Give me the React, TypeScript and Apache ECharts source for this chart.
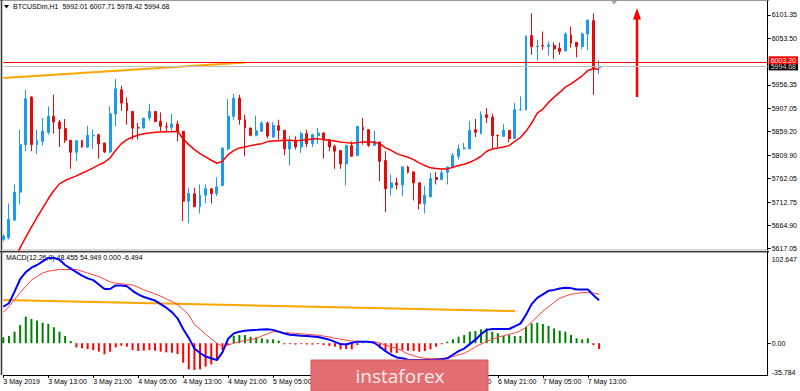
import React, { useEffect, useRef } from "react";
import * as echarts from "echarts";

// ---------- DATA ----------
const xTickLabels = [
  "3 May 2019", "3 May 13:00", "3 May 21:00", "4 May 05:00", "4 May 13:00",
  "4 May 21:00", "5 May 05:00", "5 May 13:00", "5 May 21:00", "6 May 05:00",
  "6 May 13:00", "6 May 21:00", "7 May 05:00", "7 May 13:00",
];
// tick labels that lie completely under the watermark box in the reference
const coveredTickLabels = ["5 May 13:00", "5 May 21:00", "6 May 05:00"];
const barsPerTick = 8;
const totalSlots = 137;

const opens = [5635.6,5639,5675.6,5733.6,5832.2,5930.9,5832.2,5839.2,5857.8,5890.9,
5879.2,5865.4,5841.2,5816.4,5840.5,5827.4,5850.5,5852.9,5835.7,5817.1,
5895.7,5946.1,5918.5,5901.2,5867.5,5866.7,5887.4,5901.2,5880.5,5869.5,
5868.1,5875,5859.9,5714.9,5730.1,5703.2,5727.4,5740.5,5730.8,5747.4,
5823.3,5890.9,5928.8,5884,5866.7,5851.6,5859.9,5877.1,5848.2,5871.6,
5861.9,5823.3,5840.5,5827.4,5855,5834.3,5850.9,5856.4,5842.6,5828.8,
5819.8,5792.2,5830.2,5809.5,5868.1,5863.3,5830.9,5837.8,5799.1,5742.5,
5752.9,5748.8,5786,5775.7,5752.9,5710.1,5723.9,5764,5759.8,5775,
5786,5808.1,5824,5823.3,5863.3,5855,5894.3,5889.5,5851.5,5849.5,
5861.9,5844.7,5904,5904.7,6058.6,6035.8,6038,6035.8,6037.9,6032.4,
6026.8,6060,6044.8,6035.8,6062,6089.6,5992.01];

const highs = [5646,5710.1,5749.5,5863.3,5946.1,5933,5863.3,5887.5,5911.6,5935.8,
5884,5885.4,5842,5841,5841.5,5871.6,5863.3,5853.5,5836,5911.6,
5968.9,5954.4,5930.2,5901.5,5877.1,5887.5,5917.1,5901.5,5899.2,5878.5,
5895.7,5882,5860,5742.6,5742.6,5749.5,5749.5,5742.6,5764.6,5826,
5927.5,5937.8,5935.8,5894.3,5867,5892.3,5880.6,5880,5879.2,5884,
5862.5,5850.9,5849.5,5859.9,5863.3,5855,5866.7,5857.8,5843,5832.3,
5820,5832.3,5839.2,5870.5,5887.5,5863.5,5861.2,5838,5818.5,5770.2,
5763.3,5787.4,5788.8,5776,5753,5746,5773.6,5775,5780.5,5786.5,
5815,5832.3,5835.7,5880.6,5885.4,5901.2,5908.2,5896.4,5853,5875,
5862,5918.5,5932.3,6058.5,6104.8,6049.6,6066.9,6046.2,6044.8,6044.1,
6065.5,6077.2,6045,6064.8,6091.5,6104.8,6007.71];

const lows = [5632,5635.6,5673.6,5708.1,5818.5,5818.5,5813,5830.2,5853,5855,
5827.4,5835.7,5781.9,5797.8,5826,5825.4,5823.3,5803.3,5815,5815,
5870.2,5902.6,5873.7,5842.6,5842.6,5866,5882,5878.5,5859.9,5857.8,
5859.2,5839.2,5673.6,5668.7,5703,5689.4,5710.1,5710.1,5725.3,5746,
5820.5,5884,5873.7,5808.1,5849.5,5849.5,5859,5845,5847,5842.6,
5810.2,5788.8,5821.9,5815,5827.4,5827.4,5833.6,5803.3,5818.5,5781.9,
5781.9,5747.4,5808,5809,5832.3,5827.4,5830,5756.4,5692.2,5726.7,
5739.1,5725.3,5772.2,5716.3,5697.7,5689.4,5723,5749.5,5759,5749.5,
5784,5801.2,5821.9,5823,5848.1,5854,5877.1,5823.3,5827.4,5849,
5837.1,5844,5903.3,5903.3,6018.6,6006.8,6028.9,6017.2,6010.3,6018.6,
6026,6033.7,6013,6030.3,6028.9,5935.7,5978.42];

const closes = [5642.5,5677,5733.6,5832.2,5927.5,5832.2,5840.5,5859.8,5890.9,5879.2,
5865.4,5841.2,5816.4,5840.5,5827.4,5851.6,5851.5,5833.6,5817.1,5896.4,
5948.2,5918.5,5902.6,5866.7,5866.7,5887.4,5901.2,5880.5,5870.2,5868.8,
5875,5858.5,5714.9,5730.8,5703.2,5727.4,5740.5,5730.8,5744.6,5825.3,
5890.9,5928.8,5884,5866.7,5851.6,5861.2,5877.1,5850,5872.3,5861.9,
5823.3,5840.5,5827.4,5855,5834.3,5852.9,5856.4,5842.6,5827.4,5818.5,
5792.2,5830.2,5808.1,5870.2,5862.6,5830.9,5839.2,5797.7,5740.5,5752.9,
5748.8,5786,5775,5752.9,5710.1,5726.7,5761.9,5759.8,5773.6,5786,
5809.5,5823.3,5825.4,5861.9,5857.8,5894.3,5888.8,5850.9,5850.9,5861.9,
5844.7,5904.7,5905,6057.9,6035.8,6036.5,6037,6039.2,6031,6025.5,
6062,6042.7,6035.8,6062,6091,5991,5994.68];

const maValues = [5540,5565,5592,5618.4,5640.4,5661.1,5681.1,5700.5,5719.8,5737,
5750.8,5757.7,5762.6,5767.4,5772.9,5778.4,5783.9,5790.2,5795.7,5804.7,
5820.5,5834.3,5842.6,5848.1,5852.3,5855,5856.4,5857.8,5858.5,5859.2,
5859.2,5859.9,5844,5832.3,5821.9,5813.6,5806.7,5799.8,5793.6,5797.8,
5811.6,5819.8,5825.4,5827.4,5830.2,5832.3,5834.3,5838.5,5839.8,5840.5,
5841.2,5841.2,5840.5,5841.2,5842.6,5844,5844.7,5842.6,5841.2,5839.8,
5837.8,5836.4,5835,5836.4,5837.8,5837.8,5837.1,5834.3,5825.4,5820.5,
5813.6,5809.5,5806,5801.2,5794.3,5788.8,5784,5782.6,5781.9,5781.9,
5785.3,5788.8,5791.5,5795.7,5801.2,5808.1,5818.5,5823.3,5825.4,5827.4,
5830.2,5839.2,5847,5859.9,5877.1,5897.8,5906.1,5919.9,5930.9,5940.6,
5951.6,5958.5,5966.8,5975.1,5986.1,5989.6,5988.9];

const macdMain = [41,45,58,72,80,85,88,92,96,96,
94,88,84,80,76,73,71,66,61,61,
65,65,64,59,55,52,50,48,44,40,
35,28,16,6,-6,-11,-15,-17,-19,-10,
5,11,13,14,14.5,15,15.5,15.6,15,13,
11,9.5,9,8.5,8,7.5,7,5.5,4,1.5,
-1,-1.5,0.5,1.5,1.7,1.5,0.5,-4,-9,-13,
-16,-17,-18.5,-19,-19,-19,-19,-18.5,-18,-17,
-13,-9,-6,-1,4,10,15,16,16,16,
16,19,22,32,44,51,55,59,60,61.5,
62.5,62,60.5,60.5,60.5,54,48.455];

const macdSignal = [35,41,49,57,64,71,75,79,81,82,
83,83,83,83,81,79,77,75,72,69,
67.5,67,66,65.5,63,60,58,55.5,53,50,
47,43.5,38,32,21,16,10,5,0,-3.5,
-2,0,1.5,3,4,5.5,8,10.5,13,12.5,
12,11.5,11,10.5,10,9.5,9,8,7,5.5,
4.5,3.5,2.5,2.2,2,1.8,1.7,0,-2,-4,
-5.8,-9,-12,-14,-16,-17,-17.5,-17.5,-17.2,-17,
-15,-13,-11.4,-8,-4,-1,2,4.5,6.6,8.5,
10,11.5,14,17.5,24,30,36,41,46,50.5,
53,55,56,57,57,56.5,54.949];

const macdHist = [6.6,8.1,13,20.5,29.9,27.2,25.4,23.1,21.6,17.9,
13,8.1,2.5,-4.7,-5.8,-6.5,-7.7,-9.5,-12.5,-9.5,
-4.7,-2.8,-3.9,-7.7,-8.8,-8.4,-7.7,-8.4,-9.5,-10.3,
-10.7,-12.2,-21.9,-29.4,-30.2,-29.4,-26.4,-23.8,-18.9,-7.7,
-2,8.1,9.2,9.2,7.3,6.6,5.5,4.4,4.4,2.9,
-1.2,-1,-1.5,-1,-1.5,-1.5,-1,-2,-3,-3.9,
-6.9,-6.5,-6.9,-2,0.8,0.5,-1,-5.8,-8.4,-10.7,
-11,-7.7,-8.4,-8.8,-9.5,-8.8,-6.9,-3.9,-1.2,1.7,
4.4,7.3,9.2,13,13.7,15.6,16.7,13,11.1,8.1,
9.2,8.1,8.1,18.6,22.4,23.1,21.6,19.4,16.7,14.1,
13,9.2,5.5,4.4,5.5,-2,-6.494];

const priceTicks = [6101.35, 6053.5, 5956.35, 5907.05, 5859.2, 5809.9, 5762.05, 5712.75, 5664.9, 5617.05];
const macdTicks = [102.647, 0, -35.784];
const priceMin = 5613.5;
const priceMax = 6130.4;
const macdMin = -35.784;
const macdMax = 102.647;
const resistanceLevel = 6003.2;
const bidLevel = 5994.68;
const trendMain = [[0, 5970.6], [43, 6002.8]];
const trendMacd = [[0, 48.6], [91, 36.2]];
const titleText = "BTCUSDm,H1  5992.01 6007.71 5978.42 5994.68";
const macdTitle = "MACD(12,26,9) 48.455 54.949 0.000 -6.494";

// ---------- CHART ----------
const FONT = "Liberation Sans";
const FS = 7;

export default function App() {
  const ref = useRef<HTMLDivElement>(null);
  useEffect(() => {
    if (!ref.current) return;
    const chart = echarts.init(ref.current, undefined, { renderer: "svg" });
    const cats = Array.from({ length: totalSlots }, (_, i) => String(i));
    const tickShown = (i: number) =>
      i % barsPerTick === 0 && i / barsPerTick < xTickLabels.length;
    const labelShown = (i: number) =>
      tickShown(i) && coveredTickLabels.indexOf(xTickLabels[i / barsPerTick]) < 0;
    const candleData = opens.map((o, i) => [o, closes[i], lows[i], highs[i]]);
    const bull = "#1a9bf0";
    const bear = "#e30b0b";

    const option: any = {
      animation: false,
      backgroundColor: "#ffffff",
      textStyle: { fontFamily: FONT },
      grid: [
        { left: 3.3, top: 1, width: 765, height: 249 },
        { left: 3.3, top: 252, width: 765, height: 123 },
      ],
      xAxis: [
        {
          type: "category", gridIndex: 0, data: cats, boundaryGap: false,
          axisLine: { show: false }, axisTick: { show: false },
          axisLabel: { show: false }, splitLine: { show: false },
        },
        {
          type: "category", gridIndex: 1, data: cats, boundaryGap: false,
          axisLine: { show: true, onZero: false, lineStyle: { color: "#000", width: 1 } },
          axisTick: { show: true, interval: (i: number) => tickShown(i), length: 3, lineStyle: { color: "#000" } },
          axisLabel: {
            interval: (i: number) => labelShown(i),
            formatter: (_v: string, i: number) => (labelShown(i) ? xTickLabels[i / barsPerTick] : ""),
            align: "left", fontSize: FS, color: "#000", margin: 3, fontFamily: FONT,
          },
          splitLine: { show: false },
        },
      ],
      yAxis: [
        {
          type: "value", gridIndex: 0, position: "right", min: priceMin, max: priceMax,
          axisLine: { show: true, lineStyle: { color: "#000" } },
          axisTick: { show: true, customValues: priceTicks, length: 3, lineStyle: { color: "#000" } },
          axisLabel: {
            customValues: priceTicks, formatter: (v: number) => v.toFixed(2),
            fontSize: FS, color: "#000", margin: 4, fontFamily: FONT,
          },
          splitLine: { show: false },
        },
        {
          type: "value", gridIndex: 1, position: "right", min: macdMin, max: macdMax,
          axisLine: { show: true, onZero: false, lineStyle: { color: "#000" } },
          axisTick: { show: true, customValues: [0], length: 3, lineStyle: { color: "#000" } },
          axisLabel: {
            customValues: macdTicks,
            formatter: (v: number) =>
              v > 50 ? "{t|" + v.toFixed(3) + "}" : v < -10 ? "{b|" + v.toFixed(3) + "}" : "{m|" + v.toFixed(2) + "}",
            rich: {
              t: { padding: [15, 0, 0, 0], fontSize: FS, fontFamily: FONT, color: "#000" },
              b: { padding: [0, 0, 6, 0], fontSize: FS, fontFamily: FONT, color: "#000" },
              m: { fontSize: FS, fontFamily: FONT, color: "#000" },
            },
            margin: 4,
          },
          splitLine: { show: false },
        },
      ],
      series: [
        {
          type: "candlestick", xAxisIndex: 0, yAxisIndex: 0, data: candleData,
          barWidth: 2.4,
          itemStyle: { color: bull, color0: bear, borderColor: bull, borderColor0: bear, borderWidth: 1 },
          markLine: {
            silent: true, symbol: "none", animation: false,
            data: [
              {
                yAxis: bidLevel,
                lineStyle: { color: "#c0c0c0", width: 1, type: "solid" },
                label: {
                  show: true, position: "end", distance: 1, formatter: bidLevel.toFixed(2),
                  backgroundColor: "#000", color: "#ddd", fontSize: FS, fontFamily: FONT,
                  padding: [0, 2, 0, 2], lineHeight: 8,
                },
              },
              {
                yAxis: resistanceLevel,
                lineStyle: { color: "#ff0000", width: 1, type: "solid" },
                label: {
                  show: true, position: "end", distance: 1, formatter: resistanceLevel.toFixed(2),
                  backgroundColor: "#ff0000", color: "#fff", fontSize: FS, fontFamily: FONT,
                  padding: [0, 2, 0, 2], lineHeight: 8, offset: [0, -2],
                },
              },
            ],
          },
        },
        {
          type: "line", xAxisIndex: 0, yAxisIndex: 0, data: maValues, symbol: "none",
          lineStyle: { color: "#ff0000", width: 1.5 }, z: 3,
        },
        {
          type: "line", xAxisIndex: 0, yAxisIndex: 0, data: trendMain, symbol: "none",
          lineStyle: { color: "#ffa500", width: 2 }, z: 4,
        },
        {
          type: "bar", xAxisIndex: 1, yAxisIndex: 1, barWidth: 2,
          data: macdHist.map((v) => ({ value: v, itemStyle: { color: v >= 0 ? "#008000" : "#ff0000" } })),
        },
        {
          type: "line", xAxisIndex: 1, yAxisIndex: 1, data: macdSignal, symbol: "none",
          lineStyle: { color: "#ff4040", width: 1 }, z: 3,
        },
        {
          type: "line", xAxisIndex: 1, yAxisIndex: 1, data: macdMain, symbol: "none",
          lineStyle: { color: "#0000ff", width: 2 }, z: 4,
        },
        {
          type: "line", xAxisIndex: 1, yAxisIndex: 1, data: trendMacd, symbol: "none",
          lineStyle: { color: "#ffa500", width: 2 }, z: 2,
        },
      ],
      graphic: [
        { type: "line", shape: { x1: 0, y1: 0.5, x2: 769, y2: 0.5 }, style: { stroke: "#999", lineWidth: 1 } },
        { type: "line", shape: { x1: 1.5, y1: 0, x2: 1.5, y2: 375 }, style: { stroke: "#333", lineWidth: 1.5 } },
        { type: "line", shape: { x1: 0, y1: 250, x2: 769, y2: 250 }, style: { stroke: "#b0b0b0", lineWidth: 1 } },
        { type: "line", shape: { x1: 0, y1: 251.8, x2: 769, y2: 251.8 }, style: { stroke: "#404040", lineWidth: 1.5 } },
        { type: "polygon", shape: { points: [[4, 5], [9, 5], [6.5, 8.5]] }, style: { fill: "#000" } },
        {
          type: "text", x: 13, y: 6.7,
          style: { text: titleText, fontSize: FS, fontFamily: FONT, fill: "#000", verticalAlign: "middle" },
        },
        {
          type: "text", x: 6, y: 257.8,
          style: { text: macdTitle, fontSize: FS, fontFamily: FONT, fill: "#000", verticalAlign: "middle" },
        },
        { type: "polygon", shape: { points: [[611.5, 1], [617, 1], [614.2, 4.5]] }, style: { fill: "#a0a0a0" } },
        { type: "line", shape: { x1: 637, y1: 97, x2: 637, y2: 17 }, style: { stroke: "#ff0000", lineWidth: 2.5 } },
        { type: "polygon", shape: { points: [[637, 8], [633, 19.5], [641, 19.5]] }, style: { fill: "#ff0000" } },
        {
          type: "rect", z: 100, shape: { x: 311, y: 360, width: 177, height: 31 },
          style: { fill: "#e36e71", stroke: "#d45c60", lineWidth: 1 },
        },
        {
          type: "text", z: 101, x: 400, y: 375.5,
          style: {
            text: "instaforex", fontSize: 19, fontFamily: "Open Sans", fill: "#fbeaea",
            align: "center", verticalAlign: "middle",
          },
        },
      ],
    };
    chart.setOption(option);
    return () => chart.dispose();
  }, []);
  return <div ref={ref} style={{ width: 800, height: 391, position: "absolute", left: 0, top: 0 }} />;
}
